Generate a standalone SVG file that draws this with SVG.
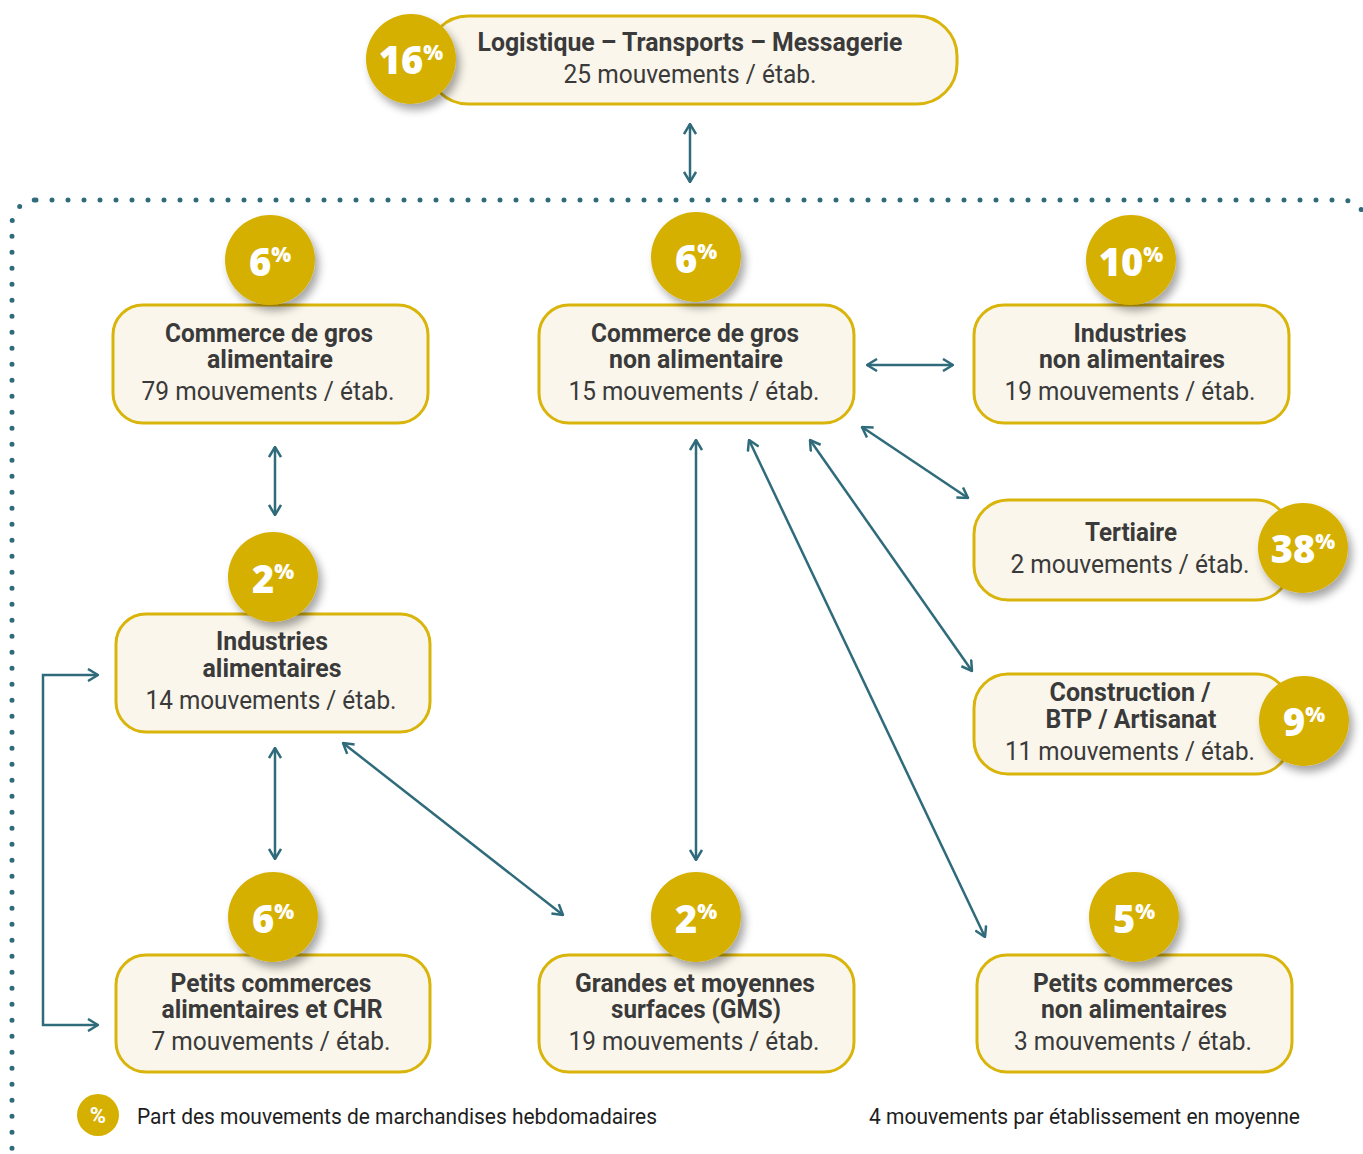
<svg xmlns="http://www.w3.org/2000/svg" width="1363" height="1154" viewBox="0 0 1363 1154">
<defs>
<style>
.box{fill:#FAF6EB;stroke:#D9B40A;stroke-width:3}
.badge{fill:#D6B000}
.b{font-family:Roboto,"Liberation Sans",sans-serif;font-weight:bold;font-size:25px;fill:#3A3A3A;text-anchor:middle}
.r{font-family:Roboto,"Liberation Sans",sans-serif;font-size:25px;fill:#3A3A3A;text-anchor:middle}
.pct{font-family:"Open Sans","DejaVu Sans",sans-serif;font-weight:800;font-size:38px;fill:#FFFFFF;text-anchor:middle}
.pct tspan.s{font-size:21px}
.leg{font-family:Roboto,"Liberation Sans",sans-serif;font-size:22px;fill:#1E1E1E}
.conn{fill:none;stroke:#2F6B7B;stroke-width:2.5}
</style>
<filter id="sh" x="-30%" y="-30%" width="170%" height="170%">
<feDropShadow dx="4" dy="6" stdDeviation="4" flood-color="#000" flood-opacity="0.35"/>
</filter>
<marker id="ah" viewBox="0 0 12 14" refX="11" refY="7" markerWidth="12" markerHeight="14" markerUnits="userSpaceOnUse" orient="auto-start-reverse">
<path d="M1,1 L11,7 L1,13" fill="none" stroke="#2F6B7B" stroke-width="2.5"/>
</marker>
</defs>
<rect width="1363" height="1154" fill="#FFFFFF"/>
<rect x="12" y="200" width="1354" height="980" rx="24" fill="none" stroke="#2F6B7B" stroke-width="5" stroke-linecap="round" stroke-dasharray="0 16"/>

<g id="connectors">
<line class="conn" x1="690" y1="124" x2="690" y2="182" marker-start="url(#ah)" marker-end="url(#ah)"/>
<line class="conn" x1="275" y1="447" x2="275" y2="515" marker-start="url(#ah)" marker-end="url(#ah)"/>
<line class="conn" x1="275" y1="748" x2="275" y2="859" marker-start="url(#ah)" marker-end="url(#ah)"/>
<line class="conn" x1="343" y1="743" x2="563" y2="915" marker-start="url(#ah)" marker-end="url(#ah)"/>
<line class="conn" x1="696" y1="440" x2="696" y2="860" marker-start="url(#ah)" marker-end="url(#ah)"/>
<line class="conn" x1="749" y1="440" x2="985" y2="937" marker-start="url(#ah)" marker-end="url(#ah)"/>
<line class="conn" x1="810" y1="440" x2="972" y2="671" marker-start="url(#ah)" marker-end="url(#ah)"/>
<line class="conn" x1="862" y1="427" x2="968" y2="498" marker-start="url(#ah)" marker-end="url(#ah)"/>
<line class="conn" x1="867" y1="365" x2="953" y2="365" marker-start="url(#ah)" marker-end="url(#ah)"/>
<path class="conn" d="M98,675 H43 V1025 H98" marker-start="url(#ah)" marker-end="url(#ah)"/>
</g>

<g id="n-logistique">
<rect class="box" x="428" y="16" width="529" height="88" rx="40"/>
<circle class="badge" cx="411" cy="59" r="45" filter="url(#sh)"/>
<text class="pct" x="411" y="74">16<tspan class="s" dy="-14">%</tspan></text>
<text class="b" x="690" y="51" textLength="425" lengthAdjust="spacingAndGlyphs">Logistique – Transports – Messagerie</text>
<text class="r" x="690" y="83" textLength="253" lengthAdjust="spacingAndGlyphs">25 mouvements / étab.</text>
</g>

<g id="n-cga">
<rect class="box" x="113" y="305" width="315" height="118" rx="30"/>
<circle class="badge" cx="270" cy="260" r="45" filter="url(#sh)"/>
<text class="pct" x="270" y="276">6<tspan class="s" dy="-14">%</tspan></text>
<text class="b" x="269" y="342" textLength="208" lengthAdjust="spacingAndGlyphs">Commerce de gros</text>
<text class="b" x="270" y="368" textLength="126" lengthAdjust="spacingAndGlyphs">alimentaire</text>
<text class="r" x="268" y="400" textLength="253" lengthAdjust="spacingAndGlyphs">79 mouvements / étab.</text>
</g>

<g id="n-cgna">
<rect class="box" x="539" y="305" width="315" height="118" rx="30"/>
<circle class="badge" cx="696" cy="257" r="45" filter="url(#sh)"/>
<text class="pct" x="696" y="273">6<tspan class="s" dy="-14">%</tspan></text>
<text class="b" x="695" y="342" textLength="208" lengthAdjust="spacingAndGlyphs">Commerce de gros</text>
<text class="b" x="696" y="368" textLength="174" lengthAdjust="spacingAndGlyphs">non alimentaire</text>
<text class="r" x="694" y="400" textLength="251" lengthAdjust="spacingAndGlyphs">15 mouvements / étab.</text>
</g>

<g id="n-ina">
<rect class="box" x="974" y="305" width="315" height="118" rx="30"/>
<circle class="badge" cx="1131" cy="260" r="45" filter="url(#sh)"/>
<text class="pct" x="1131" y="276">10<tspan class="s" dy="-14">%</tspan></text>
<text class="b" x="1130" y="342" textLength="113" lengthAdjust="spacingAndGlyphs">Industries</text>
<text class="b" x="1132" y="368" textLength="186" lengthAdjust="spacingAndGlyphs">non alimentaires</text>
<text class="r" x="1130" y="400" textLength="251" lengthAdjust="spacingAndGlyphs">19 mouvements / étab.</text>
</g>

<g id="n-tertiaire">
<rect class="box" x="974" y="500" width="316" height="100" rx="34"/>
<circle class="badge" cx="1303" cy="548" r="45" filter="url(#sh)"/>
<text class="pct" x="1303" y="563">38<tspan class="s" dy="-14">%</tspan></text>
<text class="b" x="1131" y="541" textLength="92" lengthAdjust="spacingAndGlyphs">Tertiaire</text>
<text class="r" x="1130" y="573" textLength="239" lengthAdjust="spacingAndGlyphs">2 mouvements / étab.</text>
</g>

<g id="n-construction">
<rect class="box" x="974" y="674" width="316" height="100" rx="34"/>
<circle class="badge" cx="1304" cy="721" r="45" filter="url(#sh)"/>
<text class="pct" x="1304" y="736">9<tspan class="s" dy="-14">%</tspan></text>
<text class="b" x="1130" y="701" textLength="161" lengthAdjust="spacingAndGlyphs">Construction /</text>
<text class="b" x="1131" y="728" textLength="171" lengthAdjust="spacingAndGlyphs">BTP / Artisanat</text>
<text class="r" x="1130" y="760" textLength="250" lengthAdjust="spacingAndGlyphs">11 mouvements / étab.</text>
</g>

<g id="n-ia">
<rect class="box" x="116" y="614" width="314" height="118" rx="30"/>
<circle class="badge" cx="273" cy="577" r="45" filter="url(#sh)"/>
<text class="pct" x="273" y="593">2<tspan class="s" dy="-14">%</tspan></text>
<text class="b" x="272" y="650" textLength="112" lengthAdjust="spacingAndGlyphs">Industries</text>
<text class="b" x="272" y="677" textLength="139" lengthAdjust="spacingAndGlyphs">alimentaires</text>
<text class="r" x="271" y="709" textLength="251" lengthAdjust="spacingAndGlyphs">14 mouvements / étab.</text>
</g>

<g id="n-pca">
<rect class="box" x="116" y="955" width="314" height="117" rx="30"/>
<circle class="badge" cx="273" cy="917" r="45" filter="url(#sh)"/>
<text class="pct" x="273" y="933">6<tspan class="s" dy="-14">%</tspan></text>
<text class="b" x="271" y="992" textLength="201" lengthAdjust="spacingAndGlyphs">Petits commerces</text>
<text class="b" x="272" y="1018" textLength="221" lengthAdjust="spacingAndGlyphs">alimentaires et CHR</text>
<text class="r" x="271" y="1050" textLength="239" lengthAdjust="spacingAndGlyphs">7 mouvements / étab.</text>
</g>

<g id="n-gms">
<rect class="box" x="539" y="955" width="315" height="117" rx="30"/>
<circle class="badge" cx="696" cy="917" r="45" filter="url(#sh)"/>
<text class="pct" x="696" y="933">2<tspan class="s" dy="-14">%</tspan></text>
<text class="b" x="695" y="992" textLength="240" lengthAdjust="spacingAndGlyphs">Grandes et moyennes</text>
<text class="b" x="696" y="1018" textLength="170" lengthAdjust="spacingAndGlyphs">surfaces (GMS)</text>
<text class="r" x="694" y="1050" textLength="251" lengthAdjust="spacingAndGlyphs">19 mouvements / étab.</text>
</g>

<g id="n-pcna">
<rect class="box" x="977" y="955" width="315" height="117" rx="30"/>
<circle class="badge" cx="1134" cy="917" r="45" filter="url(#sh)"/>
<text class="pct" x="1134" y="933">5<tspan class="s" dy="-14">%</tspan></text>
<text class="b" x="1133" y="992" textLength="200" lengthAdjust="spacingAndGlyphs">Petits commerces</text>
<text class="b" x="1134" y="1018" textLength="186" lengthAdjust="spacingAndGlyphs">non alimentaires</text>
<text class="r" x="1133" y="1050" textLength="238" lengthAdjust="spacingAndGlyphs">3 mouvements / étab.</text>
</g>

<g id="legend">
<circle class="badge" cx="98" cy="1115" r="21"/>
<text x="98" y="1123" font-family="Roboto,'Liberation Sans',sans-serif" font-weight="bold" font-size="22" fill="#FFFFFF" text-anchor="middle">%</text>
<text class="leg" x="137" y="1124" textLength="520" lengthAdjust="spacingAndGlyphs">Part des mouvements de marchandises hebdomadaires</text>
<text class="leg" x="869" y="1124" textLength="431" lengthAdjust="spacingAndGlyphs">4 mouvements par établissement en moyenne</text>
</g>
</svg>
